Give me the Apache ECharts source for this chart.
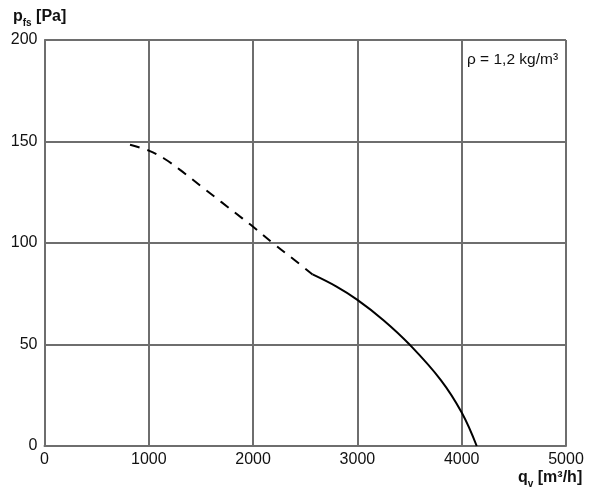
<!DOCTYPE html>
<html><head><meta charset="utf-8">
<script src="https://cdn.jsdelivr.net/npm/echarts@6/dist/echarts.min.js"></script>
<style>html,body{margin:0;padding:0;background:#fff}#c{width:600px;height:490px}</style>
</head><body><div id="c"></div>
<script>
// Data
const xTicks = [0, 1000, 2000, 3000, 4000, 5000];
const yTicks = [0, 50, 100, 150, 200];
const dashedQ = [820, 1000, 1150, 1300, 1500, 1700, 1900, 2000, 2200, 2400, 2570];
const dashedP = [148.4, 145.5, 141.5, 136, 128, 120, 112, 108, 99.5, 91.5, 84.5];
const solidQ = [2570, 2800, 3000, 3250, 3500, 3800, 4000, 4144];
const solidP = [84.5, 78.5, 72, 62, 50, 32.5, 16.5, 0];

const zip = (a, b) => a.map((v, i) => [v, b[i]]);
const FONT = '"Liberation Sans", Arial, sans-serif';
const GRID = '#6e6e6e';

const chart = echarts.init(document.getElementById('c'), null, {renderer: 'canvas'});
chart.setOption({
  animation: false,
  backgroundColor: '#fff',
  grid: {left: 44.5, right: 34, top: 40, bottom: 44},
  xAxis: {
    type: 'value', min: xTicks[0], max: xTicks[xTicks.length - 1], interval: 1000,
    axisLine: {show: true, lineStyle: {color: GRID, width: 2}},
    axisTick: {show: false},
    axisLabel: {color: '#111', fontFamily: FONT, fontSize: 16, margin: 6, formatter: v => String(v)},
    splitLine: {show: true, lineStyle: {color: GRID, width: 2}}
  },
  yAxis: {
    type: 'value', min: yTicks[0], max: yTicks[yTicks.length - 1], interval: 50,
    axisLine: {show: true, lineStyle: {color: GRID, width: 2}},
    axisTick: {show: false},
    axisLabel: {color: '#111', fontFamily: FONT, fontSize: 16, margin: 7, formatter: v => String(v)},
    splitLine: {show: true, lineStyle: {color: GRID, width: 2}}
  },
  series: [
    {type: 'line', data: zip(dashedQ, dashedP), smooth: 0.4, showSymbol: false,
     lineStyle: {color: '#000', width: 2, type: [10, 8]}},
    {type: 'line', data: zip(solidQ, solidP), smooth: 0.4, showSymbol: false,
     lineStyle: {color: '#000', width: 2}}
  ],
  graphic: [
    {type: 'text', left: 13, top: 9, style: {
      text: '{b|p}{s|fs}{b| [Pa]}',
      rich: {
        b: {fontFamily: FONT, fontWeight: 'bold', fontSize: 16, fill: '#111', verticalAlign: 'bottom'},
        s: {fontFamily: FONT, fontWeight: 'bold', fontSize: 10, fill: '#111', verticalAlign: 'bottom', padding: [0, 0, -3, 0]}
      }}},
    {type: 'text', left: 518, top: 470, style: {
      text: '{b|q}{s|v}{b| [m³/h]}',
      rich: {
        b: {fontFamily: FONT, fontWeight: 'bold', fontSize: 16, fill: '#111', verticalAlign: 'bottom'},
        s: {fontFamily: FONT, fontWeight: 'bold', fontSize: 10, fill: '#111', verticalAlign: 'bottom', padding: [0, 0, -3, 0]}
      }}},
    {type: 'text', left: 467, top: 52, style: {
      text: 'ρ = 1,2 kg/m³', fontFamily: FONT, fontSize: 15.5, fill: '#111'}}
  ]
});
</script></body></html>
